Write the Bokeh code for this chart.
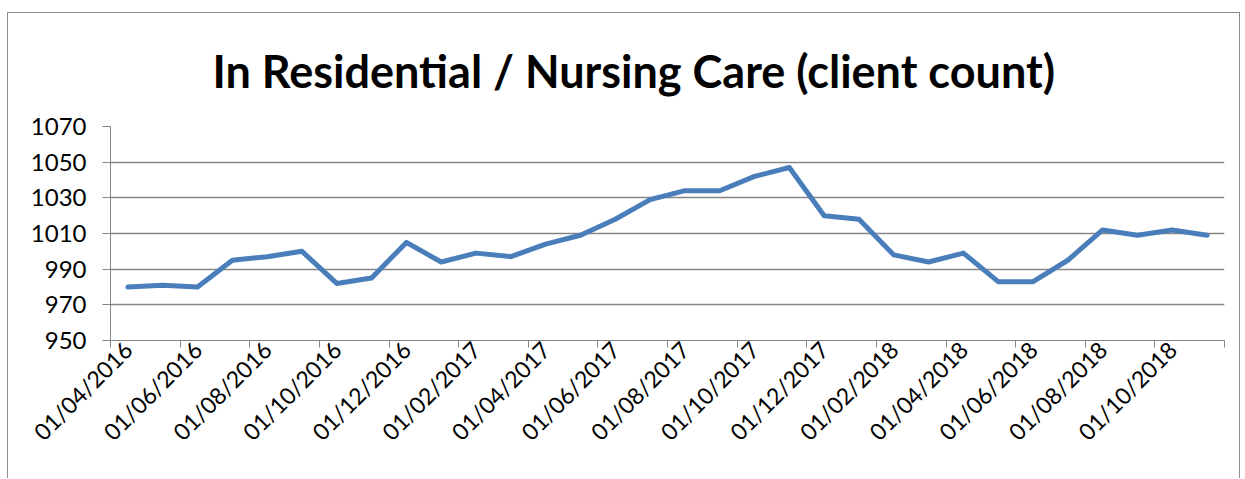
from bokeh.plotting import figure
from bokeh.models import FixedTicker, Title
from bokeh.embed import file_html
from bokeh.resources import INLINE
import math

months = [
    "01/04/2016", "01/05/2016", "01/06/2016", "01/07/2016", "01/08/2016", "01/09/2016",
    "01/10/2016", "01/11/2016", "01/12/2016", "01/01/2017", "01/02/2017", "01/03/2017",
    "01/04/2017", "01/05/2017", "01/06/2017", "01/07/2017", "01/08/2017", "01/09/2017",
    "01/10/2017", "01/11/2017", "01/12/2017", "01/01/2018", "01/02/2018", "01/03/2018",
    "01/04/2018", "01/05/2018", "01/06/2018", "01/07/2018", "01/08/2018", "01/09/2018",
    "01/10/2018", "01/11/2018",
]
clients = [
    980, 981, 980, 995, 997, 1000, 982, 985, 1005, 994, 999, 997,
    1004, 1009, 1018, 1029, 1034, 1034, 1042, 1047, 1020, 1018, 998, 994,
    999, 983, 983, 995, 1012, 1009, 1012, 1009,
]
y_ticks = [950, 970, 990, 1010, 1030, 1050, 1070]
title_text = "In Residential / Nursing Care (client count)"

FONT = "Lato"
GRID = "#868686"

n = len(months)
xs = list(range(n))

p = figure(
    width=1233, height=466,
    x_range=(-0.5, n - 0.5), y_range=(y_ticks[0], y_ticks[-1]),
    output_backend="svg", toolbar_location=None,
    min_border_left=102, min_border_right=17, min_border_top=113, min_border_bottom=139,
)
p.margin = (12, 0, 0, 7)
p.styles = {"border": "1px solid #8c8c8c", "border-bottom": "none"}
p.outline_line_color = None
p.background_fill_color = "white"
p.border_fill_color = "white"

t = Title(text=title_text, align="left", offset=102, vertical_align="top",
          text_font=FONT, text_font_size="45px", text_font_style="bold",
          text_color="black")
t.standoff = 53
p.add_layout(t, "above")

p.line(xs, clients, line_color="#4A7EBB", line_width=5, line_join="round", line_cap="round")

# y axis
p.yaxis.ticker = FixedTicker(ticks=y_ticks)
p.yaxis.axis_line_color = GRID
p.yaxis.major_tick_line_color = GRID
p.yaxis.major_tick_out = 8
p.yaxis.major_tick_in = 0
p.yaxis.minor_tick_line_color = None
p.yaxis.major_label_standoff = 16
p.yaxis.major_label_text_font = FONT
p.yaxis.major_label_text_font_size = "24px"
p.yaxis.major_label_text_color = "black"

# x axis
label_ticks = xs[::2]
p.xaxis.ticker = FixedTicker(ticks=label_ticks,
                             minor_ticks=[i - 0.5 for i in range(0, n + 1, 2)])
p.xaxis.major_label_overrides = {i: months[i] for i in label_ticks}
p.xaxis.axis_line_color = GRID
p.xaxis.major_tick_line_color = None
p.xaxis.major_tick_out = 0
p.xaxis.major_tick_in = 0
p.xaxis.minor_tick_line_color = GRID
p.xaxis.minor_tick_out = 7
p.xaxis.minor_tick_in = 0
p.xaxis.major_label_orientation = math.pi / 4
p.xaxis.major_label_standoff = -2
p.xaxis.major_label_text_font = FONT
p.xaxis.major_label_text_font_size = "23px"
p.xaxis.major_label_text_color = "black"

p.xgrid.grid_line_color = None
p.ygrid.ticker = FixedTicker(ticks=y_ticks)
p.ygrid.grid_line_color = GRID
p.ygrid.grid_line_width = 1.5

open("out.html", "w").write(file_html(p, INLINE))
